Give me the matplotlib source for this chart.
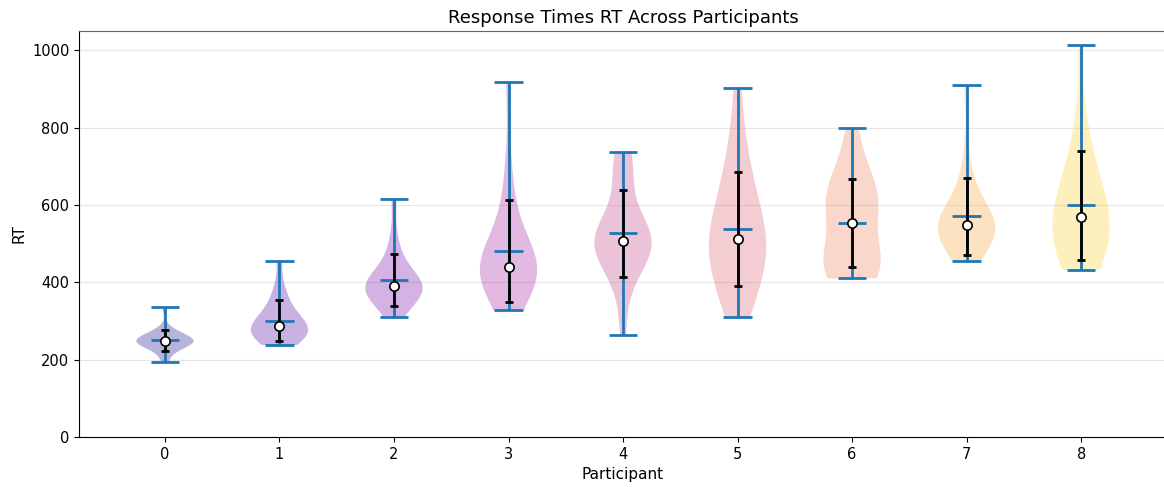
import numpy as np
import matplotlib
matplotlib.use("Agg")
import matplotlib.pyplot as plt

# response times (ms) per participant
participants = [0, 1, 2, 3, 4, 5, 6, 7, 8]

rt_p0 = [195, 215, 225, 232, 236, 240, 243, 245, 246, 247,
         248, 250, 252, 255, 258, 262, 268, 270, 280, 335]
rt_p1 = [238, 245, 250, 256, 262, 266, 270, 275, 280, 284,
         290, 295, 300, 308, 318, 330, 345, 365, 390, 455]
rt_p2 = [310, 330, 345, 355, 362, 370, 376, 382, 386, 389,
         391, 395, 402, 410, 420, 432, 448, 475, 520, 615]
rt_p3 = [328, 345, 372, 390, 405, 415, 422, 428, 435, 438,
         442, 450, 460, 475, 495, 520, 560, 610, 700, 917]
rt_p4 = [265, 380, 420, 445, 465, 480, 492, 500, 505, 507,
         509, 515, 525, 540, 560, 600, 660, 700, 720, 737]
rt_p5 = [310, 340, 370, 400, 420, 440, 460, 480, 495, 505,
         520, 540, 560, 585, 610, 640, 680, 720, 780, 903]
rt_p6 = [410, 412, 418, 425, 435, 448, 462, 480, 505, 540,
         565, 590, 605, 615, 625, 640, 660, 690, 730, 800]
rt_p7 = [455, 470, 485, 500, 510, 520, 528, 535, 540, 545,
         550, 556, 562, 570, 582, 598, 620, 655, 720, 910]
rt_p8 = [432, 440, 450, 465, 480, 500, 520, 540, 555, 565,
         575, 590, 610, 630, 655, 680, 700, 760, 820, 1013]

data = [rt_p0, rt_p1, rt_p2, rt_p3, rt_p4, rt_p5, rt_p6, rt_p7, rt_p8]

means = [np.mean(d) for d in data]
stds = [np.std(d) for d in data]
medians = [np.median(d) for d in data]

fig = plt.figure(figsize=(11.64, 4.87), dpi=100)
# axes run slightly past the right edge, like the cropped reference
ax = fig.add_axes([0.0679, 0.1027, 0.9347, 0.8337])

ax.grid(axis="y", alpha=0.3, zorder=0)
ax.set_axisbelow(True)

parts = ax.violinplot(data, positions=participants, showmeans=True,
                      showextrema=True, widths=0.5)
colors = plt.cm.plasma(np.linspace(0, 0.9, len(data)))
for pc, c in zip(parts["bodies"], colors):
    pc.set_facecolor(c)
    pc.set_edgecolor("none")
    pc.set_alpha(0.3)
for key in ["cmins", "cmaxes", "cbars", "cmeans"]:
    parts[key].set_linewidth(2)

ax.errorbar(participants, means, yerr=stds, fmt="none", ecolor="black",
            elinewidth=2, capsize=3, capthick=2, zorder=3)
ax.scatter(participants, medians, s=45, facecolor="white",
           edgecolor="black", linewidth=1.2, zorder=4)

ax.spines["top"].set_color("#666666")
ax.set_xlim(-0.75, 8.75)
ax.set_ylim(0, 1050)
ax.set_xticks(participants)
ax.tick_params(labelsize=10.5)
ax.set_xlabel("Participant", fontsize=11)
ax.set_ylabel("RT", fontsize=11)
ax.set_title("Response Times RT Across Participants", fontsize=13)

plt.savefig("out.png")
